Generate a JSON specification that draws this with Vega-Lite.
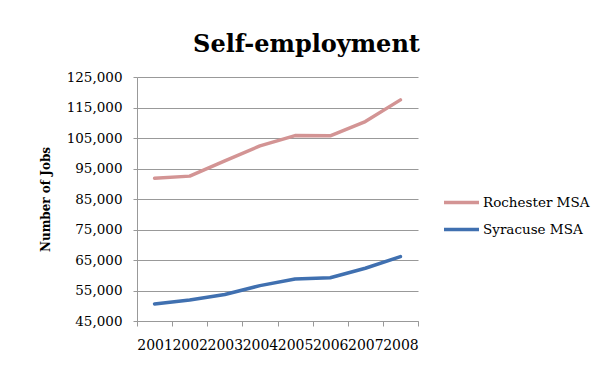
{
  "$schema": "https://vega.github.io/schema/vega-lite/v6.json",
  "autosize": "none",
  "width": 281,
  "height": 244,
  "padding": {"left": 137, "top": 77, "right": 174, "bottom": 45},
  "background": "white",
  "title": {
    "text": "Self-employment",
    "font": "DejaVu Serif",
    "fontSize": 24,
    "fontWeight": "bold",
    "color": "#000000",
    "anchor": "middle",
    "dx": 29,
    "offset": 13
  },
  "data": {
    "values": [
      {"year": "2001", "series": "Rochester MSA", "jobs": 91800},
      {"year": "2002", "series": "Rochester MSA", "jobs": 92500},
      {"year": "2003", "series": "Rochester MSA", "jobs": 97500},
      {"year": "2004", "series": "Rochester MSA", "jobs": 102400},
      {"year": "2005", "series": "Rochester MSA", "jobs": 105800},
      {"year": "2006", "series": "Rochester MSA", "jobs": 105700},
      {"year": "2007", "series": "Rochester MSA", "jobs": 110400},
      {"year": "2008", "series": "Rochester MSA", "jobs": 117500},
      {"year": "2001", "series": "Syracuse MSA", "jobs": 50600},
      {"year": "2002", "series": "Syracuse MSA", "jobs": 51900},
      {"year": "2003", "series": "Syracuse MSA", "jobs": 53700},
      {"year": "2004", "series": "Syracuse MSA", "jobs": 56600},
      {"year": "2005", "series": "Syracuse MSA", "jobs": 58800},
      {"year": "2006", "series": "Syracuse MSA", "jobs": 59200},
      {"year": "2007", "series": "Syracuse MSA", "jobs": 62300},
      {"year": "2008", "series": "Syracuse MSA", "jobs": 66100}
    ]
  },
  "mark": {"type": "line", "strokeWidth": 3.5, "strokeCap": "round", "strokeJoin": "round"},
  "encoding": {
    "x": {
      "field": "year",
      "type": "ordinal",
      "scale": {"type": "band", "paddingInner": 0, "paddingOuter": 0},
      "axis": {
        "title": null,
        "labelAngle": 0,
        "labelOverlap": false,
        "tickBand": "extent",
        "tickSize": 5,
        "tickColor": "#999999",
        "domainColor": "#999999",
        "labelPadding": 12,
        "labelFont": "DejaVu Serif",
        "labelFontSize": 14,
        "labelColor": "#000000",
        "grid": false
      }
    },
    "y": {
      "field": "jobs",
      "type": "quantitative",
      "scale": {"domain": [45000, 125000], "nice": false, "zero": false},
      "axis": {
        "title": "Number of Jobs",
        "titleFont": "DejaVu Serif",
        "titleFontSize": 12,
        "titleFontWeight": "bold",
        "titleColor": "#000000",
        "titlePadding": 14,
        "values": [45000, 55000, 65000, 75000, 85000, 95000, 105000, 115000, 125000],
        "format": ",d",
        "labelFont": "DejaVu Serif",
        "labelFontSize": 13.5,
        "labelColor": "#000000",
        "labelPadding": 11,
        "tickSize": 4,
        "tickColor": "#999999",
        "domainColor": "#999999",
        "grid": true,
        "gridColor": "#999999",
        "gridOpacity": 1
      }
    },
    "color": {
      "field": "series",
      "type": "nominal",
      "scale": {"domain": ["Rochester MSA", "Syracuse MSA"], "range": ["#d39494", "#4070b0"]},
      "legend": {
        "title": null,
        "orient": "none",
        "legendX": 305,
        "legendY": 106,
        "symbolType": "stroke",
        "symbolSize": 1225,
        "symbolStrokeWidth": 3.5,
        "labelFont": "DejaVu Serif",
        "labelFontSize": 13.5,
        "labelColor": "#000000",
        "labelOffset": 2,
        "rowPadding": -7
      }
    }
  },
  "config": {
    "view": {"stroke": null}
  }
}
